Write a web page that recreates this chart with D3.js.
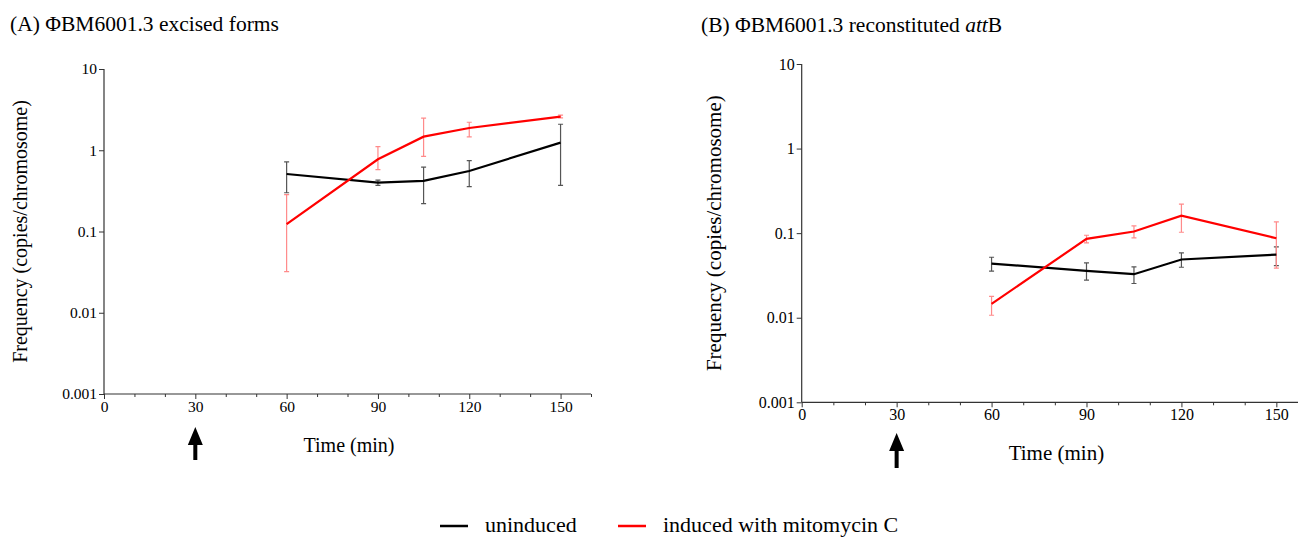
<!DOCTYPE html>
<html><head><meta charset="utf-8">
<script src="https://cdn.jsdelivr.net/npm/d3@7"></script>
<style>body{margin:0;background:#fff}svg{display:block}</style>
</head><body><svg id="c" width="1298" height="537"></svg>
<script>
const times = [60, 90, 105, 120, 150];
const xTicks = [0, 30, 60, 90, 120, 150];
const yTicks = [0.001, 0.01, 0.1, 1, 10];
const yTickLabels = ["0.001", "0.01", "0.1", "1", "10"];
// Panel A: excised forms
const aUnind = [0.51, 0.40, 0.42, 0.556, 1.24];
const aUnindLo = [0.30, 0.37, 0.22, 0.357, 0.37];
const aUnindHi = [0.72, 0.43, 0.62, 0.745, 2.09];
const aInd = [0.123, 0.775, 1.47, 1.88, 2.59];
const aIndLo = [0.032, 0.578, 0.84, 1.46, 2.5];
const aIndHi = [0.284, 1.11, 2.48, 2.21, 2.7];
// Panel B: reconstituted attB
const bUnind = [0.0437, 0.0358, 0.0327, 0.0488, 0.0558];
const bUnindLo = [0.0355, 0.0278, 0.0254, 0.0395, 0.0414];
const bUnindHi = [0.0519, 0.0446, 0.0399, 0.0585, 0.0689];
const bInd = [0.0146, 0.0856, 0.1045, 0.161, 0.087];
const bIndLo = [0.0107, 0.0768, 0.088, 0.1025, 0.0385];
const bIndHi = [0.0179, 0.0944, 0.122, 0.22, 0.136];
const legendLabels = ["uninduced", "induced with mitomycin C"];

const FONT = "'Liberation Serif', 'Times New Roman', serif";
const svg = d3.select("#c");

function txt(sel, fs) {
  return sel.style("font-family", FONT).style("font-size", fs + "px").style("fill", "#000");
}

function panel(cfg) {
  const g = svg.append("g");
  const x = d3.scaleLinear().domain([0, 160]).range([cfg.x0, cfg.x1]);
  const y = d3.scaleLog().domain([0.001, 10]).range([cfg.y0, cfg.y1]);
  // x axis
  const xa = g.append("g").attr("transform", `translate(0,${cfg.y0})`)
    .call(d3.axisBottom(x).tickValues(d3.range(0, 161, 10)).tickSize(5).tickFormat(d => xTicks.includes(d) ? d : ""));
  xa.select(".domain").attr("stroke", "#333").attr("stroke-width", 1.2).attr("d", `M${cfg.x0},0H${cfg.x1}`);
  xa.selectAll(".tick line").attr("stroke", "#333").attr("y2", d => xTicks.includes(d) ? 5 : 3);
  txt(xa.selectAll(".tick text"), cfg.tickFs).attr("dy", "0.25em").attr("y", 14);
  // y axis
  const ya = g.append("g").attr("transform", `translate(${cfg.x0},0)`)
    .call(d3.axisLeft(y).tickValues(yTicks).tickSize(5).tickFormat((d, i) => yTickLabels[i]));
  ya.select(".domain").attr("stroke", "#333").attr("stroke-width", 1.2).attr("d", `M0,${cfg.y0}V${cfg.y1}`);
  ya.selectAll(".tick line").attr("stroke", "#333");
  txt(ya.selectAll(".tick text"), cfg.tickFs).attr("x", -7);
  // labels
  txt(g.append("text"), 21.5).attr("x", cfg.titleX).attr("y", cfg.titleY).html(cfg.title);
  txt(g.append("text"), cfg.labFs).attr("x", x(cfg.xlabX)).attr("y", cfg.xlabY).attr("text-anchor", "middle").text("Time (min)");
  txt(g.append("text"), cfg.labFs).attr("transform", `translate(${cfg.ylabX},${(cfg.y0 + cfg.y1) / 2}) rotate(-90)`)
    .attr("text-anchor", "middle").text("Frequency (copies/chromosome)");
  // arrow at induction time
  const ax = x(30), at = cfg.arrowTop, ab = cfg.arrowBot;
  g.append("path").attr("fill", "#000")
    .attr("d", `M${ax},${at}L${ax + 7.5},${at + 18}L${ax + 2},${at + 18}L${ax + 2},${ab}L${ax - 2},${ab}L${ax - 2},${at + 18}L${ax - 7.5},${at + 18}Z`);
  // series
  const series = [
    {v: cfg.unind, lo: cfg.unindLo, hi: cfg.unindHi, c: "#000", ec: "#555"},
    {v: cfg.ind, lo: cfg.indLo, hi: cfg.indHi, c: "#ff0000", ec: "#ff8a8a"}
  ];
  series.forEach(s => {
    const eg = g.append("g").attr("stroke", s.ec).attr("stroke-width", 1.2).attr("fill", "none");
    times.forEach((t, i) => {
      const cx = x(t);
      eg.append("path").attr("d", `M${cx},${y(s.lo[i])}V${y(s.hi[i])}M${cx - 2.5},${y(s.lo[i])}H${cx + 2.5}M${cx - 2.5},${y(s.hi[i])}H${cx + 2.5}`);
    });
  });
  series.forEach(s => {
    g.append("path").datum(s.v).attr("fill", "none").attr("stroke", s.c).attr("stroke-width", 2.2)
      .attr("d", d3.line().x((d, i) => x(times[i])).y(d => y(d)));
  });
}

panel({x0: 104, x1: 591, y0: 394, y1: 69, tickFs: 15.5, labFs: 20, xlabX: 80.5, xlabY: 452, ylabX: 27,
  title: "(A) ΦBM6001.3 excised forms", titleX: 10, titleY: 31, arrowTop: 427, arrowBot: 460,
  unind: aUnind, unindLo: aUnindLo, unindHi: aUnindHi, ind: aInd, indLo: aIndLo, indHi: aIndHi});
panel({x0: 801.7, x1: 1308, y0: 402.3, y1: 64, tickFs: 16, labFs: 21, xlabX: 80.5, xlabY: 460, ylabX: 721,
  title: "(B) ΦBM6001.3 reconstituted <tspan font-style='italic'>att</tspan>B", titleX: 701, titleY: 31.5, arrowTop: 433, arrowBot: 468,
  unind: bUnind, unindLo: bUnindLo, unindHi: bUnindHi, ind: bInd, indLo: bIndLo, indHi: bIndHi});

// legend
const leg = svg.append("g");
const legItems = [{x: 440, c: "#000"}, {x: 618, c: "#ff0000"}];
legItems.forEach((it, i) => {
  leg.append("line").attr("x1", it.x).attr("x2", it.x + 28).attr("y1", 526).attr("y2", 526).attr("stroke", it.c).attr("stroke-width", 2.5);
  txt(leg.append("text"), 22).attr("x", it.x + 45).attr("y", 532).text(legendLabels[i]);
});
</script></body></html>
